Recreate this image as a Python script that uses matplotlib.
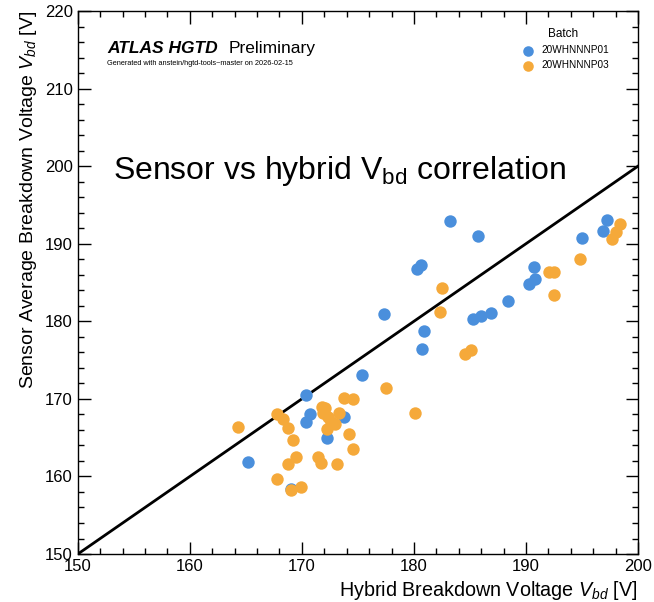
import matplotlib
matplotlib.use("Agg")
import matplotlib.pyplot as plt
from matplotlib.ticker import MultipleLocator, AutoMinorLocator

plt.rcParams['font.family'] = ['Liberation Sans', 'DejaVu Sans']
plt.rcParams['mathtext.fontset'] = 'custom'
plt.rcParams['mathtext.rm'] = 'Liberation Sans'
plt.rcParams['mathtext.it'] = 'Liberation Sans:italic'

batches = ["20WHNNNP01", "20WHNNNP03"]
colors = ["#4a8fdc", "#f5a93a"]

p01_hybrid = [165.2, 170.4, 170.7, 170.4, 172.2, 173.8, 175.4, 177.3, 183.2, 185.7,
              180.3, 180.6, 180.9, 180.7, 185.3, 186.0, 186.9, 188.4, 190.3, 190.8,
              190.7, 195.0, 196.9, 197.2, 169.0]
p01_sensor = [161.9, 170.5, 168.0, 167.0, 164.9, 167.6, 173.1, 181.0, 192.9, 191.0,
              186.7, 187.2, 178.7, 176.4, 180.3, 180.7, 181.1, 182.6, 184.8, 185.4,
              187.0, 190.7, 191.6, 193.0, 158.4]

p03_hybrid = [164.3, 167.8, 168.3, 168.8, 169.2, 169.5, 168.8, 167.8, 169.0, 169.9,
              171.8, 172.1, 171.9, 172.3, 172.6, 173.0, 172.2, 173.3, 173.8, 174.6,
              174.2, 174.6, 171.4, 171.7, 173.1, 177.5, 180.1, 182.5, 182.3, 184.6,
              185.1, 192.1, 192.5, 192.5, 194.8, 197.7, 198.0, 198.4]
p03_sensor = [166.4, 168.0, 167.4, 166.2, 164.7, 162.5, 161.6, 159.7, 158.3, 158.6,
              168.9, 168.8, 168.2, 167.7, 167.0, 166.8, 166.1, 168.2, 170.1, 170.0,
              165.5, 163.5, 162.5, 161.7, 161.6, 171.4, 168.2, 184.3, 181.2, 175.8,
              176.3, 186.4, 186.4, 183.4, 188.0, 190.6, 191.5, 192.5]

x_range = [150, 200]
y_range = [150, 220]

fig = plt.figure(figsize=(6.54, 6.02), dpi=100)
ax = fig.add_axes([0.119, 0.0797, 0.8565, 0.902])

ax.plot(x_range, x_range, color="black", lw=2, zorder=1)
ax.scatter(p01_hybrid, p01_sensor, s=80, color=colors[0], label=batches[0], zorder=2, linewidths=0)
ax.scatter(p03_hybrid, p03_sensor, s=80, color=colors[1], label=batches[1], zorder=3, linewidths=0)

ax.set_xlim(*x_range)
ax.set_ylim(*y_range)
ax.xaxis.set_major_locator(MultipleLocator(10))
ax.yaxis.set_major_locator(MultipleLocator(10))
ax.xaxis.set_minor_locator(AutoMinorLocator(5))
ax.yaxis.set_minor_locator(AutoMinorLocator(5))
ax.tick_params(which="both", direction="in", top=True, right=True, labelsize=12)
ax.tick_params(which="major", length=9, width=1)
ax.tick_params(which="minor", length=4.5, width=1)
for s in ax.spines.values():
    s.set_linewidth(1)

ax.set_xlabel("Hybrid Breakdown Voltage $V_{bd}$ [V]", fontsize=14.2, loc="right")
ax.set_ylabel("Sensor Average Breakdown Voltage $V_{bd}$ [V]", fontsize=14, loc="top")

ax.text(0.052, 0.944, "ATLAS HGTD", transform=ax.transAxes, fontsize=12.5,
        fontweight="bold", fontstyle="italic", va="top")
ax.text(0.27, 0.944, "Preliminary", transform=ax.transAxes, fontsize=12.5, va="top")
ax.text(0.052, 0.91, "Generated with anstein/hgtd-tools~master on 2026-02-15",
        transform=ax.transAxes, fontsize=5.3, va="top")

ax.text(0.062, 0.674, "Sensor vs hybrid V$_{\\mathrm{bd}}$ correlation",
        transform=ax.transAxes, fontsize=23, va="bottom")

leg = ax.legend(title="Batch", loc="upper right", frameon=False, fontsize=7.2,
                title_fontsize=8.5, handletextpad=0.4, markerscale=0.85,
                labelspacing=0.5, bbox_to_anchor=(0.965, 0.985))

fig.savefig("out.png", dpi=100)
